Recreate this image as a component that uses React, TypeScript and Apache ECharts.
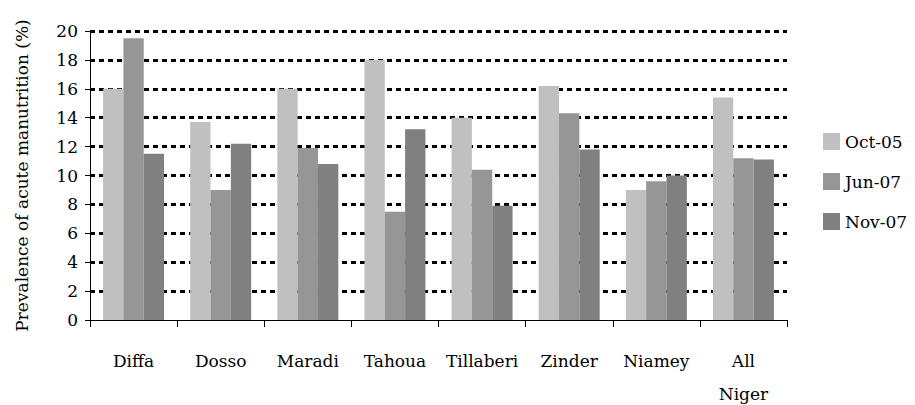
import React, { useEffect, useRef } from "react";
import * as echarts from "echarts";

const categories = ["Diffa", "Dosso", "Maradi", "Tahoua", "Tillaberi", "Zinder", "Niamey", "All\nNiger"];
const seriesNames = ["Oct-05", "Jun-07", "Nov-07"];
const oct05 = [16.0, 13.7, 16.0, 18.0, 14.0, 16.2, 9.0, 15.4];
const jun07 = [19.5, 9.0, 11.9, 7.5, 10.4, 14.3, 9.6, 11.2];
const nov07 = [11.5, 12.2, 10.8, 13.2, 7.9, 11.8, 10.0, 11.1];
const colors = ["#c0c0c0", "#969696", "#808080"];

const FONT = "DejaVu Serif";

export default function App() {
  const ref = useRef<HTMLDivElement>(null);
  useEffect(() => {
    if (!ref.current) return;
    const chart = echarts.init(ref.current, undefined, { renderer: "svg" });
    const data = [oct05, jun07, nov07];
    chart.setOption({
      animation: false,
      textStyle: { fontFamily: FONT, color: "#000" },
      grid: { left: 90, right: 128, top: 31, bottom: 85, outerBoundsMode: "none", containLabel: false },
      legend: {
        orient: "vertical",
        left: 818,
        top: 128,
        itemWidth: 17,
        itemHeight: 17,
        itemGap: 23,
        icon: "rect",
        textStyle: { fontFamily: FONT, fontSize: 17, color: "#000" },
        data: seriesNames,
      },
      xAxis: {
        type: "category",
        data: categories,
        axisLine: { lineStyle: { color: "#000", width: 1 } },
        axisTick: { show: true, length: 7, lineStyle: { color: "#000" } },
        axisLabel: {
          fontFamily: FONT,
          fontSize: 17,
          color: "#000",
          lineHeight: 33,
          margin: 24,
          interval: 0,
        },
      },
      yAxis: {
        type: "value",
        min: 0,
        max: 20,
        interval: 2,
        name: "Prevalence of acute manutrition (%)",
        nameLocation: "middle",
        nameGap: 60,
        nameTextStyle: { fontFamily: FONT, fontSize: 17, color: "#000" },
        axisLine: { show: true, lineStyle: { color: "#000", width: 1 } },
        axisTick: { show: true, length: 5, lineStyle: { color: "#000" } },
        axisLabel: { fontFamily: FONT, fontSize: 17, color: "#000", margin: 12 },
        splitLine: {
          show: true,
          showMinLine: false,
          lineStyle: { color: "#000", width: 3, type: [5, 4] },
        },
      },
      series: seriesNames.map((name, i) => ({
        name,
        type: "bar",
        data: data[i],
        barGap: "0%",
        barCategoryGap: "30%",
        itemStyle: { color: colors[i] },
      })),
    });
    return () => chart.dispose();
  }, []);
  return <div ref={ref} style={{ width: 915, height: 405, position: "absolute", left: 0, top: 0 }} />;
}
